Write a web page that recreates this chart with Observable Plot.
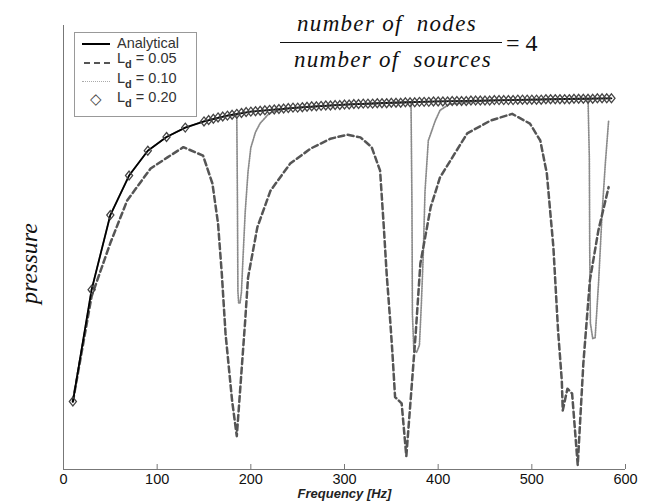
<!DOCTYPE html>
<html><head><meta charset="utf-8">
<script src="https://cdn.jsdelivr.net/npm/d3@7"></script>
<script src="https://cdn.jsdelivr.net/npm/@observablehq/plot@0.6"></script>
<style>
body{margin:0;background:#fff;}
#wrap{position:relative;width:654px;height:504px;overflow:hidden;background:#fff;}
.ov{position:absolute;white-space:nowrap;}
.lg{font-family:"Liberation Sans",Arial,sans-serif;font-size:14.5px;color:#333;line-height:16px;}
.lg sub{font-size:11px;font-weight:bold;vertical-align:-5px;line-height:0;}
.ser{font-family:"Liberation Serif","Times New Roman",serif;font-style:italic;font-size:23px;color:#111;}
</style></head>
<body><div id="wrap"></div>
<script>
// x axis ticks
const xTicks = [0, 100, 200, 300, 400, 500, 600];

// Analytical (solid)
const analyticFreq  = [10, 30, 50, 70, 90, 110, 130, 150, 175, 200, 250, 300, 350, 400, 450, 500, 550, 585];
const analyticValue = [15.3, 40.5, 57.3, 66.2, 71.8, 74.9, 77.0, 78.4, 79.7, 80.6, 81.5, 82.2, 82.6, 82.9, 83.1, 83.3, 83.5, 83.6];

// L_d = 0.05 (dashed)
const ld05Freq  = [10, 30, 50, 68, 93, 111, 128, 149, 159, 165, 169, 173, 180, 185, 194, 197, 207, 221, 242, 264, 285, 303, 317, 329, 338, 342, 345, 349, 351, 354, 361, 366, 370, 376, 381, 392, 402, 431, 456, 479, 498, 509, 516, 523, 528, 532, 533, 538, 543, 549, 555, 562, 571, 582];
const ld05Value = [15.3, 39, 51, 60.6, 67.8, 70.3, 72.6, 70.7, 64.4, 55.4, 44.1, 30.6, 15.5, 7.5, 33.6, 43.2, 54.6, 62.8, 68.9, 72.3, 74.5, 75.4, 74.8, 72.6, 67.3, 54.5, 44.1, 32.9, 26.8, 16.3, 14.9, 3, 14, 30.6, 46.4, 59.1, 65.8, 75.7, 78.6, 80.1, 77.9, 74.1, 66.7, 50.1, 31.3, 20, 13.3, 18.2, 17.1, 1, 23.9, 42.6, 53.8, 63.6];

// L_d = 0.10 (dotted)
const ld10Freq  = [10, 30, 50, 70, 90, 110, 130, 150, 175, 185, 185.7, 186.2, 187, 188.5, 190, 191.5, 194, 197, 200, 205, 210, 220, 235, 250, 300, 350, 371, 372, 372.5, 374, 377, 380, 382, 384, 386, 389.5, 397, 402, 412, 450, 500, 560, 561.4, 561.8, 562.5, 565, 567.6, 571.4, 575, 578.5, 582];
const ld10Value = [15.3, 40.5, 57.3, 66.2, 71.8, 74.9, 77.0, 78.4, 79.7, 79.8, 60, 40, 37.5, 37.5, 40, 47, 58, 67, 72.5, 76, 78, 80.3, 81.2, 81.5, 82.2, 82.6, 82.7, 60, 35, 27, 26.4, 28, 37, 47.8, 62.8, 74.1, 78.6, 80.9, 82.3, 83.1, 83.3, 83.5, 70, 50, 33, 29.5, 29.7, 42.6, 57.7, 69, 78.6];

// L_d = 0.20 (diamonds)
const ld20Freq  = [10, 30, 50, 70, 90, 110, 130, 150, 155, 160, 165, 170, 175, 180, 185, 190, 195, 200, 205, 210, 215, 220, 225, 230, 235, 240, 245, 250, 255, 260, 265, 270, 275, 280, 285, 290, 295, 300, 305, 310, 315, 320, 325, 330, 335, 340, 345, 350, 355, 360, 365, 370, 375, 380, 385, 390, 395, 400, 405, 410, 415, 420, 425, 430, 435, 440, 445, 450, 455, 460, 465, 470, 475, 480, 485, 490, 495, 500, 505, 510, 515, 520, 525, 530, 535, 540, 545, 550, 555, 560, 565, 570, 575, 580, 585];
const ld20Value = [15.3, 40.5, 57.3, 66.2, 71.8, 74.9, 77.0, 78.4, 78.7, 79.0, 79.3, 79.5, 79.7, 79.9, 80.1, 80.3, 80.5, 80.6, 80.7, 80.8, 80.9, 81.0, 81.1, 81.2, 81.3, 81.4, 81.5, 81.5, 81.6, 81.7, 81.8, 81.8, 81.9, 82.0, 82.0, 82.1, 82.1, 82.2, 82.2, 82.3, 82.3, 82.4, 82.4, 82.4, 82.5, 82.5, 82.5, 82.6, 82.6, 82.6, 82.7, 82.7, 82.7, 82.8, 82.8, 82.8, 82.9, 82.9, 82.9, 82.9, 83.0, 83.0, 83.0, 83.0, 83.1, 83.1, 83.1, 83.1, 83.1, 83.2, 83.2, 83.2, 83.2, 83.2, 83.3, 83.3, 83.3, 83.3, 83.3, 83.3, 83.4, 83.4, 83.4, 83.4, 83.4, 83.4, 83.5, 83.5, 83.5, 83.5, 83.5, 83.6, 83.6, 83.6, 83.6];

const zip = (f, v) => f.map((x, i) => ({f: x, v: v[i]}));
const analytic = zip(analyticFreq, analyticValue);
const ld05 = zip(ld05Freq, ld05Value);
const ld10 = zip(ld10Freq, ld10Value);
const ld20 = zip(ld20Freq, ld20Value);

const diamond = {
  draw(ctx, size) {
    const h = Math.sqrt(size / Math.PI) * 1.2, w = h * 0.8;
    ctx.moveTo(0, -h); ctx.lineTo(w, 0); ctx.lineTo(0, h); ctx.lineTo(-w, 0); ctx.closePath();
  }
};

const chart = Plot.plot({
  width: 654, height: 504,
  marginLeft: 63, marginRight: 29, marginTop: 25, marginBottom: 35,
  style: {fontFamily: "'Liberation Sans', Arial, sans-serif", fontSize: "14px", color: "#111", background: "white"},
  x: {domain: [0, 600], label: null},
  y: {domain: [0, 100], axis: null},
  marks: [
    Plot.ruleX([0], {stroke: "#777", strokeWidth: 1}),
    Plot.ruleY([0], {stroke: "#777", strokeWidth: 1}),
    Plot.axisX({ticks: xTicks, tickSize: -5, tickPadding: 9, stroke: "#777", fontSize: 14.5}),
    Plot.text(["Frequency [Hz]"], {frameAnchor: "bottom", dy: 28, fontStyle: "italic", fontWeight: "bold", fontSize: 13, fill: "#222"}),
    Plot.line(ld10, {x: "f", y: "v", stroke: "#8a8a8a", strokeWidth: 1.7, strokeDasharray: "1.2,1.2"}),
    Plot.line(ld05, {x: "f", y: "v", stroke: "#555", strokeWidth: 2.5, strokeDasharray: "6,3.5"}),
    Plot.line(analytic, {x: "f", y: "v", stroke: "#000", strokeWidth: 1.8}),
    Plot.dot(ld20, {x: "f", y: "v", symbol: diamond, r: 3.7, stroke: "#444", strokeWidth: 1.3, fill: "none"})
  ]
});
const wrap = document.getElementById("wrap");
wrap.appendChild(chart);

function add(html, style, cls) {
  const d = document.createElement("div");
  d.className = "ov " + (cls || "");
  d.innerHTML = html;
  Object.assign(d.style, style);
  wrap.appendChild(d);
  return d;
}
// y label
add("pressure", {left: "-16px", top: "250px", width: "90px", textAlign: "center", transform: "rotate(-90deg)", fontSize: "24px"}, "ser");
// formula
add("number of&nbsp; nodes", {left: "286px", top: "11px", width: "202px", textAlign: "center", letterSpacing: "1.3px"}, "ser");
add("number of&nbsp; sources", {left: "286px", top: "47px", width: "214px", textAlign: "center", letterSpacing: "1.3px"}, "ser");
add("", {left: "280px", top: "42px", width: "222px", height: "0", borderTop: "1.5px solid #111"});
add("= 4", {left: "506px", top: "30px", fontStyle: "normal", fontSize: "24px"}, "ser");
// legend
add("", {left: "74px", top: "32px", width: "121px", height: "83px", border: "1px solid #999", background: "#fff"});
add("", {left: "82px", top: "43px", width: "28px", height: "0", borderTop: "2px solid #000"});
add("", {left: "84px", top: "62px", width: "26px", height: "0", borderTop: "2px dashed #555"});
add("", {left: "82px", top: "81px", width: "28px", height: "0", borderTop: "1.5px dotted #aaa"});
add("◇", {left: "90px", top: "90px", fontSize: "15px", color: "#444", fontFamily: "DejaVu Sans"});
add("Analytical", {left: "117px", top: "35px"}, "lg");
add("L<sub>d</sub> = 0.05", {left: "117px", top: "50px"}, "lg");
add("L<sub>d</sub> = 0.10", {left: "117px", top: "70px"}, "lg");
add("L<sub>d</sub> = 0.20", {left: "117px", top: "89px"}, "lg");
</script></body></html>
